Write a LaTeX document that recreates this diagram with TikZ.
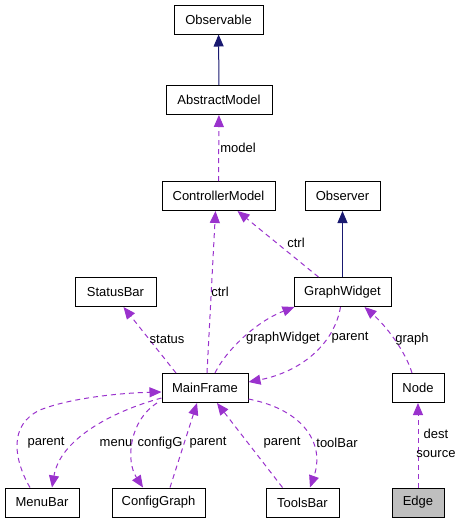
\documentclass[tikz,border=0pt]{standalone}
\usepackage{fontspec}
\setmainfont{Liberation Sans}
\usetikzlibrary{arrows.meta}
\definecolor{usecol}{HTML}{9A32CD}
\definecolor{inhcol}{HTML}{191970}
\definecolor{curfill}{HTML}{BFBFBF}

\begin{document}
\begin{tikzpicture}[
      x=1pt, y=-1pt,
      cls/.style={draw, rectangle, minimum height=29pt, inner xsep=2pt, line width=1pt,
                  font=\fontsize{13}{16}\selectfont},
      cur/.style={cls, fill=curfill},
      lbl/.style={inner sep=1pt, align=center, font=\fontsize{13}{19}\selectfont},
      inh/.style={-{Triangle[length=12pt, width=10pt]}, line width=1pt, draw=inhcol},
      usage/.style={-{Triangle[length=12pt, width=10pt]}, line width=1pt, draw=usecol,
                    dash pattern=on 5pt off 4pt},
    ]

    \useasboundingbox (0,0) rectangle (460,523);

    % classes
    \node[cls, minimum width=89pt]  (ob) at (218.5,19.5)  {Observable};
    \node[cls, minimum width=106pt] (am) at (219,100)     {AbstractModel};
    \node[cls, minimum width=113pt] (cm) at (218.5,196)   {ControllerModel};
    \node[cls, minimum width=75pt]  (or) at (342.5,196)   {Observer};
    \node[cls, minimum width=81pt]  (sb) at (115.5,292)   {StatusBar};
    \node[cls, minimum width=97pt]  (gw) at (342.5,292)   {GraphWidget};
    \node[cls, minimum width=86pt]  (mf) at (205,388)     {MainFrame};
    \node[cls, minimum width=52pt]  (nd) at (418,388)     {Node};
    \node[cls, minimum width=74pt]  (mb) at (42,502.5)    {MenuBar};
    \node[cls, minimum width=93pt]  (cg) at (158.5,502.5) {ConfigGraph};
    \node[cls, minimum width=73pt]  (tb) at (302.5,502.5) {ToolsBar};
    \node[cur, minimum width=52pt]  (ed) at (418,502.5)   {Edge};

    % inheritance
    \draw[inh] (am) -- (ob);
    \draw[inh] (gw) -- (or);

    % usage relations
    \draw[usage] (cm) -- node[lbl, right] {model} (am);
    \draw[usage] ([xshift=-24pt]gw.north) -- ([xshift=19pt]cm.south)
      node[lbl] at (296,243) {ctrl};
    \draw[usage] ([xshift=2pt]mf.north) -- ([xshift=-3pt]cm.south)
      node[lbl] at (220,292) {ctrl};
    \draw[usage] ([xshift=-29pt]mf.north) -- ([xshift=8pt]sb.south)
      node[lbl] at (167,339) {status};
    \draw[usage] ([xshift=10pt]mf.north) .. controls (225,352) and (255,322) .. ([xshift=1pt]gw.south west)
      node[lbl] at (283,338) {graphWidget};
    \draw[usage] ([xshift=-2pt]gw.south) .. controls (334,345) and (300,372) .. ([yshift=6pt]mf.east)
      node[lbl] at (350,338) {parent};
    \draw[usage] ([xshift=-6pt]nd.north) .. controls (405,350) and (385,325) .. ([xshift=22pt]gw.south)
      node[lbl] at (412,339) {graph};
    \draw[usage] (ed) -- (nd)
      node[lbl] at (436,443.5) {dest\\source};

    % bottom row
    \draw[usage] ([xshift=-12pt]mb.north) .. controls (14,460) and (8,425) .. (40,410)
      .. controls (70,398) and (120,393) .. ([yshift=-4pt]mf.west)
      node[lbl] at (46,443) {parent};
    \draw[usage] ([yshift=-10pt]mf.west) .. controls (110,412) and (60,440) .. ([xshift=10pt]mb.north)
      node[lbl] at (116,443) {menu};
    \draw[usage] ([xshift=-48pt]mf.south) .. controls (130,420) and (125,460) .. ([xshift=-15.5pt]cg.north)
      node[lbl] at (160,443) {configG};
    \draw[usage] ([xshift=11.5pt]cg.north) -- ([xshift=-8pt]mf.south)
      node[lbl] at (208,443) {parent};
    \draw[usage] ([xshift=-20pt]tb.north) -- ([xshift=12pt]mf.south)
      node[lbl] at (282,443) {parent};
    \draw[usage] ([yshift=-11pt]mf.east) .. controls (305,410) and (325,445) .. ([xshift=7.5pt]tb.north)
      node[lbl] at (337,443) {toolBar};
  \end{tikzpicture}
\end{document}
